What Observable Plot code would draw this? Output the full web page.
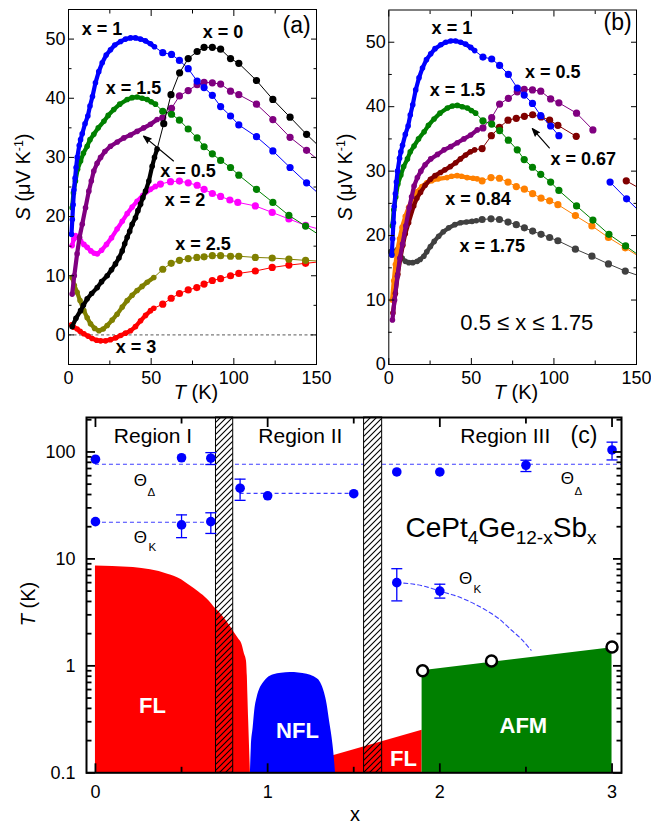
<!DOCTYPE html>
<html><head><meta charset="utf-8">
<script src="https://cdn.jsdelivr.net/npm/d3@7"></script>
<script src="https://cdn.jsdelivr.net/npm/@observablehq/plot@0.6"></script>
<style>
body{margin:0;background:#fff;}
#root{position:relative;width:651px;height:825px;overflow:hidden;font-family:"Liberation Sans",Arial,Helvetica,sans-serif;background:#fff;}
.panel{position:absolute;}
.lbl{position:absolute;white-space:nowrap;transform:translate(-50%,-50%);font-size:20px;color:#000;line-height:1;}
.rot{transform:translate(-50%,-50%) rotate(-90deg);}
.lbl sub{font-size:0.68em;vertical-align:-0.38em;line-height:0;}
.lbl sup{font-size:0.62em;vertical-align:0.55em;line-height:0;}
</style></head><body>
<svg width="0" height="0" style="position:absolute"><defs>
<pattern id="hatch" patternUnits="userSpaceOnUse" width="6" height="6">
<path d="M-1,1 l2,-2 M0,6 l6,-6 M5,7 l2,-2" stroke="#000" stroke-width="1.1"/>
</pattern></defs></svg>
<div id="root"></div>
<script>
// ================= DATA =================
// Panel (a): thermopower S (µV/K) vs T (K), pairs [T, S]
const aX0 = [[2.2,1.4],[4.5,2.8],[7.3,4.1],[9,5],[11.3,6.1],[14,7],[17.4,8],[20,9],[23.4,10],[26,11],[28.4,12],[30.5,13],[32.5,14.2],[34,15.4],[35.5,16.5],[37,17.5],[38.5,18.7],[40.5,19.8],[42,21],[43.6,22.1],[45,23.2],[46.6,24.3],[48.6,26],[50.6,28.5],[52,30],[53.6,31.4],[57.6,35.7],[62,40.6],[67.2,44.3],[72.4,46.7],[77.8,47.9],[82,48.6],[87,48.6],[92,48.3],[98,46.7],[103,45.9],[113.7,43],[123.6,39.8],[134,36.8],[144,33.9],[150,32.3]];
const aX1 = [[1.8,17],[2.3,19.5],[2.8,22],[3.3,24.5],[4,26.5],[4.6,28.3],[5.3,30],[6.5,32],[7.3,33],[8.3,34],[10,35.7],[11.7,37],[13,38.7],[14.5,40.3],[16.3,42.6],[18.3,44.5],[20.4,46],[22.8,47.3],[25.4,48.2],[28,49],[31.5,49.6],[34.5,50],[37.5,50.2],[40.5,50.2],[43.5,50],[46.5,49.7],[49.6,49.2],[52,48.7],[57,47.7],[62.3,47.4],[67.1,46.4],[72.4,45],[77.8,42.9],[82,41.8],[87,40.5],[92,38.6],[98,37],[103,35.5],[113.7,33.5],[123.6,31.1],[134,28.3],[144,25.7],[150,24.2]];
const aX15 = [[2.2,21.5],[3,24],[4.2,26],[5.5,28],[7.3,29.4],[9,30.7],[11.3,31.9],[13,33],[15.3,33.9],[18,35],[21.4,36.1],[24,37.1],[27.4,38.1],[31,39],[35.5,39.8],[38.5,40.1],[41.5,40.2],[44.5,40],[47.6,39.8],[50,39.4],[52.6,39],[57,37.8],[62.3,37.3],[67.1,36.3],[72.4,34.8],[77.8,33.3],[82,31.8],[87,30.6],[92,29.5],[98,28.3],[103,27],[113.7,24.6],[123.6,22.4],[133.3,20.2],[143.4,18.4],[150,17.2]];
const aX05 = [[2.2,6.9],[3.5,10],[5.2,13.7],[6.7,16.5],[8.3,18.7],[10.3,21.5],[12.3,24.3],[13.8,26],[15.3,27.7],[17.3,29],[19.4,30],[22,31],[25.4,31.9],[29.5,32.6],[33.5,33.3],[37.5,33.8],[41.5,34.4],[45.5,35],[49.6,35.6],[53.6,36.4],[57,36.7],[62.3,38.3],[67.1,40.4],[72.4,41.3],[77.8,42.3],[82,42.7],[87,42.6],[92,42.4],[98,41.2],[103,40.6],[113.7,39],[123.6,36.4],[134,33.4],[144,31.2],[150,29.8]];
const aX2 = [[2.2,15.1],[3.2,16.2],[4.2,16.8],[5.5,16.5],[7.3,15.9],[9.3,15.3],[11.3,14.8],[13.5,14.2],[15.5,13.8],[17.4,13.7],[20,14.3],[23,15.3],[26,16.4],[29.4,17.9],[32.5,19.2],[35.5,20.5],[38.5,21.6],[41.5,22.6],[45,23.6],[49.6,24.6],[52.6,25.1],[55.6,25.5],[61.7,25.9],[67.1,26],[72.4,25.7],[77.8,25.3],[82,24.6],[87,23.9],[92,23.4],[97.6,22.8],[102.4,22.4],[113,21.8],[123.2,20.7],[133.3,19.6],[143.4,18.5],[150,18]];
const aX25 = [[2.2,9.7],[3.5,8.4],[5.2,7.2],[7,5.8],[9.3,4.1],[11.3,2.9],[13.3,1.9],[15.8,1.1],[18.4,0.7],[21,1],[23.4,1.6],[26.4,2.5],[29.4,3.5],[32.5,4.7],[35.5,5.8],[38.5,6.7],[41.5,7.5],[44.5,8.2],[47.6,8.9],[51.6,9.7],[57,11.1],[62.1,12.1],[67.1,12.6],[72.4,12.9],[77.6,13.1],[82,13.2],[87,13.4],[92,13.4],[98,13.3],[103,13.3],[113,13.1],[123.2,13],[133.3,12.8],[143.4,12.6],[150,12.5]];
const aX3 = [[1.8,1.7],[3.2,1.3],[5.2,1],[7,0.6],[9.3,0.2],[11.8,-0.2],[14.3,-0.6],[17,-0.9],[19.4,-1],[22.4,-1],[25.4,-0.8],[28.5,-0.5],[31.5,-0.1],[34.5,0.3],[37.5,0.7],[40.5,1.4],[43.6,2.4],[46.6,3.3],[49.6,4.1],[51.6,4.5],[57,5.2],[62.1,6.2],[67.1,7],[72.4,7.6],[77.6,8],[82,8.6],[87,9.2],[92,9.5],[98,10],[103,10.4],[113,10.8],[123.2,11.4],[133.3,11.8],[143.4,12.1],[150,12.3]];

// Panel (b): extra compositions ([T, S]; null = points hidden behind a label)
const bX067 = [[2.5,8],[4,11],[5.5,14],[7,16.5],[8.5,18.5],[10,20.3],[12,22],[15.1,24.6],[17,25.8],[19.2,26.7],[22,27.8],[25.2,28.75],[28,29.3],[31.3,29.8],[34,30.2],[37.3,30.7],[40.5,31.3],[43.4,31.9],[46.5,32.5],[49.4,33],[52,33.3],[56.5,33.5],[62.1,35.5],[67,36.8],[72.2,37.9],[77.2,38.2],[82.1,38.5],[87.1,38.75],[92.2,38.4],[97.4,37.9],[102.4,37.1],[113.5,35.4],null,[143.8,28.5],[150,27.6]];
const bX084 = [[2,10],[3,13],[4,15.5],[5,17.5],[6.5,19.5],[8,21.3],[10,23],[12,24.4],[14,25.5],[17,26.8],[20,27.6],[23,28.2],[26,28.5],[30,28.8],[35.3,29],[38,29.2],[41.4,29.3],[44,29.2],[47.4,29],[51,28.9],[53.5,28.8],[56.5,28.5],[61.9,29],[67,28.9],[72.2,28.3],[77.2,27.6],[82.1,27.2],[87.1,26.5],[92.2,25.8],[97.4,25.4],[102.4,24.8],[113,23.1],[123,21.5],[133,19.7],[143.2,18.1],[150,17]];
const bX175 = [[1,17.5],[2,17],[3,17.5],[5,17.8],[6.5,17.2],[8.1,16.5],[10,16],[12.1,15.8],[14.5,15.8],[17.2,16],[19,16.3],[21.2,16.8],[23,17.5],[25.2,18.3],[27.5,19.1],[30.2,19.9],[33,20.6],[36.3,21.2],[40,21.7],[43.4,22],[47,22.1],[50.4,22.2],[53,22.3],[56.5,22.5],[61.9,22.6],[67,22.5],[72.2,22.1],[77.2,21.7],[82.1,21.2],[87.1,20.7],[92.2,20.2],[97.4,19.7],[102.4,19.2],[113,17.9],[123,16.8],[133,15.6],[143.2,14.5],[150,13.9]];
// T ranges of the shared curves that are hidden in panel (b)
const gapBx1 = [105, 130];
const gapBx05 = [125, 151];

// Curve labels (data coordinates)
const labelsA = [
  {T:20.3,S:51.6,text:"x = 1"},{T:93.4,S:51.1,text:"x = 0"},{T:39.3,S:41.7,text:"x = 1.5"},
  {T:72.3,S:27.7,text:"x = 0.5"},{T:70.5,S:22.8,text:"x = 2"},{T:81.4,S:15.4,text:"x = 2.5"},{T:40.8,S:-2.1,text:"x = 3"}];
const labelsB = [
  {T:38.2,S:52.2,text:"x = 1"},{T:99.3,S:45.3,text:"x = 0.5"},{T:41.6,S:42.5,text:"x = 1.5"},
  {T:117.8,S:31.9,text:"x = 0.67"},{T:54,S:25.6,text:"x = 0.84"},{T:62.7,S:18.3,text:"x = 1.75"}];
const arrowA = [{T1:63.5,S1:29.4,T2:45.4,S2:33.6}];
const arrowB = [{T1:97.2,S1:33.6,T2:86.9,S2:36.6}];

// Panel (c): phase diagram T (K) vs x
const flTop = [[0,8.6],[0.1,8.5],[0.22,8.3],[0.32,7.9],[0.42,7.2],[0.5,6.4],[0.55,5.6],[0.6,4.9],[0.65,4.2],[0.7,3.4],[0.73,3.04],[0.77,2.5],[0.8,2.12],[0.83,1.8],[0.85,1.6],[0.865,1.3],[0.877,1.11],[0.882,0.8],[0.885,0.54],[0.89,0.3],[0.894,0.19],[0.9,0.1]];
const nflTop = [[0.9,0.1],[0.905,0.17],[0.916,0.265],[0.925,0.38],[0.939,0.506],[0.955,0.61],[0.977,0.7],[1.0,0.77],[1.035,0.824],[1.08,0.855],[1.132,0.866],[1.18,0.858],[1.229,0.836],[1.27,0.79],[1.307,0.7],[1.33,0.56],[1.345,0.438],[1.36,0.3],[1.374,0.214],[1.385,0.15],[1.394,0.1]];
const fl2Top = [[1.37,0.143],[1.897,0.25]];
const afmTop = [[1.897,0.9],[3.0,1.48]];
const neelX = [1.9, 2.3, 3.0];
const neelT = [0.9, 1.11, 1.5];
const bandX1 = [0.70, 1.56];
const bandX2 = [0.80, 1.665];
const compTheta = [0, 0.5, 0.67, 0.84, 1, 1.5, 1.75, 2, 2.5, 3];
const thetaDelta = [85.5, 88.3, 87.4, 45.8, 38.9, 40.7, 65, 65, 75.1, 104.4];
const thetaDeltaLo = [null, null, 76.3, 35.3, null, null, null, null, 65.6, 84.2];
const thetaDeltaHi = [null, null, 98.6, 55.7, null, null, null, null, 83.7, 123.5];
const compThetaK = [0, 0.5, 0.67, 1.75, 2];
const thetaK = [22.3, 20.8, 22.3, 6.0, 5.0];
const thetaKLo = [null, 15.8, 17.3, 4.05, 4.3];
const thetaKHi = [null, 25.8, 27.0, 8.1, 5.8];
const thetaDeltaGuide = [{T:76.7, x1:0, x2:3.055}];
const thetaKGuides = [{T:22, x1:0, x2:0.67},{T:41, x1:0.84, x2:1.5}];
const thetaKCurve = [[1.75,6.0],[1.9,5.6],[2.0,5.0],[2.12,4.35],[2.2,3.8],[2.27,3.3],[2.35,2.7],[2.41,2.2],[2.47,1.8],[2.53,1.4]];
const regionLabels = [{x:0.334,T:141,text:"Region I"},{x:1.19,T:141,text:"Region II"},{x:2.38,T:141,text:"Region III"}];
const phaseLabels = [{x:0.331,T:0.42,text:"FL"},{x:1.173,T:0.247,text:"NFL"},{x:1.789,T:0.135,text:"FL"},{x:2.485,T:0.275,text:"AFM"}];
const thetaSymbols = [{x:0.261,T:53.6},{x:2.741,T:55.9},{x:0.261,T:15.7},{x:2.149,T:6.5}];
const thetaSubs = [{x:0.325,T:42.3,text:"Δ"},{x:2.805,T:43.1,text:"Δ"},{x:0.331,T:12.7,text:"K"},{x:2.218,T:5.2,text:"K"}];

// ================= RENDER =================
const FONT = '"Liberation Sans", Arial, Helvetica, sans-serif';
const pts = arr => arr.map(d => d ? {T: d[0], S: d[1]} : {T: NaN, S: NaN});
function withGap(arr, [t1, t2]) {
  const out = []; let inserted = false;
  for (const d of arr) {
    if (d && d[0] > t1 && d[0] < t2) { if (!inserted) { out.push(null); inserted = true; } continue; }
    out.push(d);
  }
  return out;
}
function seriesMarks(arr, color) {
  const p = pts(arr);
  const dense = p.filter(d => d.T <= 54);
  const sparse = p.filter(d => d.T > 54 && d.T < 149.5);
  return [
    Plot.line(p, {x: "T", y: "S", stroke: color, strokeWidth: 1, clip: true}),
    Plot.line(dense, {x: "T", y: "S", stroke: color, strokeWidth: 4.2, strokeLinecap: "round", strokeLinejoin: "round", clip: true}),
    Plot.dot(dense, {x: "T", y: "S", r: 2.8, fill: color, clip: true}),
    Plot.dot(sparse, {x: "T", y: "S", r: 3.6, fill: color, clip: true})
  ];
}
function boxAxes(o) {
  const fmt = o.fmt || (d => String(d));
  const m = [
    Plot.axisX(o.xMajor, {anchor: "bottom", tickSize: 0, tickPadding: o.xPad, label: null, tickFormat: fmt, fontSize: o.fs}),
    Plot.axisY(o.yMajor, {anchor: "left", tickSize: 0, tickPadding: o.yPad, label: null, tickFormat: fmt, fontSize: o.fs})
  ];
  for (const a of ["bottom", "top"]) {
    m.push(Plot.axisX(o.xMajor, {anchor: a, tickSize: -o.major, fill: "none", strokeWidth: o.sw, label: null}));
    m.push(Plot.axisX(o.xMinor, {anchor: a, tickSize: -o.minor, fill: "none", strokeWidth: o.sw, label: null}));
  }
  for (const a of ["left", "right"]) {
    m.push(Plot.axisY(o.yMajor, {anchor: a, tickSize: -o.major, fill: "none", strokeWidth: o.sw, label: null}));
    m.push(Plot.axisY(o.yMinor, {anchor: a, tickSize: -o.minor, fill: "none", strokeWidth: o.sw, label: null}));
  }
  return m;
}
const colors = {x0:"#000000", x1:"#0000ff", x15:"#008000", x05:"#800080", x2:"#ff00ff", x25:"#808000", x3:"#ff0000", x067:"#800000", x084:"#ff8000", x175:"#404040"};
const styleCommon = {fontFamily: FONT, fontSize: "18px", background: "transparent", color: "#000", overflow: "visible"};
const arrowOpts = {x1: "T1", y1: "S1", x2: "T2", y2: "S2", stroke: "#000", fill: "#000", strokeWidth: 1.2, headLength: 10, headAngle: 40};

const plotA = Plot.plot({
  width: 325, height: 415, marginLeft: 68, marginRight: 9, marginTop: 9, marginBottom: 51,
  x: {domain: [0, 150]}, y: {domain: [-5, 55]}, style: styleCommon,
  marks: [
    Plot.ruleY([0], {stroke: "#444", strokeDasharray: "3,2.5", strokeWidth: 0.9}),
    ...seriesMarks(aX3, colors.x3), ...seriesMarks(aX25, colors.x25), ...seriesMarks(aX2, colors.x2),
    ...seriesMarks(aX05, colors.x05), ...seriesMarks(aX15, colors.x15), ...seriesMarks(aX1, colors.x1),
    ...seriesMarks(aX0, colors.x0),
    Plot.arrow(arrowA, arrowOpts),
    Plot.text(labelsA, {x: "T", y: "S", text: "text", fontWeight: "bold", fontSize: 18}),
    Plot.text(["(a)"], {x: 138, y: 52.2, text: d => d, fontSize: 23}),
    Plot.frame({stroke: "#000"}),
    ...boxAxes({xMajor: [0, 50, 100, 150], xMinor: [25, 75, 125], yMajor: [0, 10, 20, 30, 40, 50], yMinor: [5, 15, 25, 35, 45], major: 6, minor: 3.5, sw: 1, xPad: 7, yPad: 3, fs: 18})
  ]
});

const plotB = Plot.plot({
  width: 326, height: 415, marginLeft: 63.3, marginRight: 15, marginTop: 9.5, marginBottom: 51,
  x: {domain: [0, 150]}, y: {domain: [0, 55]}, style: styleCommon,
  marks: [
    ...seriesMarks(bX175, colors.x175), ...seriesMarks(bX084, colors.x084), ...seriesMarks(bX067, colors.x067),
    ...seriesMarks(withGap(aX05, gapBx05), colors.x05), ...seriesMarks(aX15, colors.x15),
    ...seriesMarks(withGap(aX1, gapBx1), colors.x1),
    Plot.arrow(arrowB, arrowOpts),
    Plot.text(labelsB, {x: "T", y: "S", text: "text", fontWeight: "bold", fontSize: 18}),
    Plot.text(["(b)"], {x: 138.6, y: 53, text: d => d, fontSize: 23}),
    Plot.text(["0.5 ≤ x ≤ 1.75"], {x: 83.6, y: 6.4, text: d => d, fontSize: 22}),
    Plot.frame({stroke: "#000"}),
    ...boxAxes({xMajor: [0, 50, 100, 150], xMinor: [25, 75, 125], yMajor: [0, 10, 20, 30, 40, 50], yMinor: [5, 15, 25, 35, 45], major: 6, minor: 3.5, sw: 1, xPad: 7, yPad: 3, fs: 18})
  ]
});

// Panel (c)
const xyPts = arr => arr.map(d => ({x: d[0], T: d[1]}));
const bands = bandX1.map((x1, i) => ({x1, x2: bandX2[i]}));
const yDom = [0.1, 210];
const xDom = [-0.052, 3.055];
const thetaAll = compTheta.map((x, i) => ({x, T: thetaDelta[i], lo: thetaDeltaLo[i], hi: thetaDeltaHi[i]}))
  .concat(compThetaK.map((x, i) => ({x, T: thetaK[i], lo: thetaKLo[i], hi: thetaKHi[i]})));
const errs = thetaAll.filter(d => d.lo != null);
const caps = errs.flatMap(d => [{x: d.x, T: d.lo}, {x: d.x, T: d.hi}]);
const capSymbol = {draw(ctx, size) { const w = Math.sqrt(size / Math.PI); ctx.moveTo(-w, 0); ctx.lineTo(w, 0); }};
const dashBlue = "#3f3fff";
const neel = neelX.map((x, i) => ({x, T: neelT[i]}));

const plotC = Plot.plot({
  width: 651, height: 415, marginLeft: 86, marginRight: 30, marginTop: 7, marginBottom: 52.7,
  x: {domain: xDom}, y: {type: "log", domain: yDom}, style: styleCommon,
  marks: [
    Plot.ruleY(thetaDeltaGuide, {y: "T", x1: "x1", x2: "x2", stroke: dashBlue, strokeDasharray: "4,3", strokeWidth: 1.1}),
    Plot.ruleY(thetaKGuides, {y: "T", x1: "x1", x2: "x2", stroke: dashBlue, strokeDasharray: "4,3", strokeWidth: 1.1}),
    Plot.line(xyPts(thetaKCurve), {x: "x", y: "T", curve: "monotone-x", stroke: dashBlue, strokeDasharray: "4,3", strokeWidth: 1.1}),
    Plot.rect(bands, {x1: "x1", x2: "x2", y1: yDom[0], y2: yDom[1], fill: "white"}),
    Plot.areaY(xyPts(flTop), {x: "x", y1: yDom[0], y2: "T", fill: "#ff0000", curve: "monotone-x"}),
    Plot.areaY(xyPts(fl2Top), {x: "x", y1: yDom[0], y2: "T", fill: "#ff0000"}),
    Plot.areaY(xyPts(nflTop), {x: "x", y1: yDom[0], y2: "T", fill: "#0000ff", curve: "monotone-x"}),
    Plot.areaY(xyPts(afmTop), {x: "x", y1: yDom[0], y2: "T", fill: "#008000"}),
    Plot.rect(bands, {x1: "x1", x2: "x2", y1: yDom[0], y2: yDom[1], fill: "url(#hatch)", stroke: "#000", strokeWidth: 1}),
    Plot.ruleX(errs, {x: "x", y1: "lo", y2: "hi", stroke: "#0000ff", strokeWidth: 1.3}),
    Plot.dot(caps, {x: "x", y: "T", r: 5.5, symbol: capSymbol, stroke: "#0000ff", fill: "none", strokeWidth: 1.3}),
    Plot.dot(thetaAll, {x: "x", y: "T", r: 4.8, fill: "#0000ff"}),
    Plot.dot(neel, {x: "x", y: "T", r: 5.5, fill: "white", stroke: "#000", strokeWidth: 2.5}),
    Plot.text(regionLabels, {x: "x", y: "T", text: "text", fontSize: 21}),
    Plot.text(["(c)"], {x: 2.837, y: 141, text: d => d, fontSize: 23}),
    Plot.text(thetaSymbols, {x: "x", y: "T", text: () => "Θ", fontSize: 17}),
    Plot.text(thetaSubs, {x: "x", y: "T", text: "text", fontSize: 11.5}),
    Plot.text(phaseLabels, {x: "x", y: "T", text: "text", fontSize: 22, fontWeight: "bold", fill: "white"}),
    Plot.frame({stroke: "#000", strokeWidth: 2}),
    ...boxAxes({xMajor: [0, 1, 2, 3], xMinor: [0.5, 1.5, 2.5], yMajor: [0.1, 1, 10, 100],
      yMinor: [0.2,0.3,0.4,0.5,0.6,0.7,0.8,0.9,2,3,4,5,6,7,8,9,20,30,40,50,60,70,80,90,200],
      major: 9, minor: 5.5, sw: 1.8, xPad: 12, yPad: 11, fs: 18})
  ]
});

const root = document.getElementById("root");
function place(node, left, top, w, h) {
  const div = document.createElement("div");
  div.className = "panel";
  div.style.left = left + "px"; div.style.top = top + "px"; div.style.width = w + "px"; div.style.height = h + "px";
  div.appendChild(node); root.appendChild(div);
}
place(plotC, 0, 410, 651, 415);
place(plotA, 0, 0, 325, 415);
place(plotB, 325, 0, 326, 415);

const overlays = [
  {html: "<i>S</i> (μV K<sup>-1</sup>)", left: 23, top: 177, rot: true},
  {html: "<i>S</i> (μV K<sup>-1</sup>)", left: 345, top: 177, rot: true},
  {html: "<i>T</i> (K)", left: 196, top: 392},
  {html: "<i>T</i> (K)", left: 516, top: 392},
  {html: "<i>T</i> (K)", left: 28, top: 604, rot: true},
  {html: "x", left: 355, top: 814},
  {html: "CePt<sub>4</sub>Ge<sub>12-x</sub>Sb<sub>x</sub>", left: 501, top: 528, size: 28}
];
for (const o of overlays) {
  const d = document.createElement("div");
  d.className = "lbl" + (o.rot ? " rot" : "");
  d.style.left = o.left + "px"; d.style.top = o.top + "px";
  if (o.size) d.style.fontSize = o.size + "px";
  d.innerHTML = o.html;
  root.appendChild(d);
}
</script>
</body></html>
